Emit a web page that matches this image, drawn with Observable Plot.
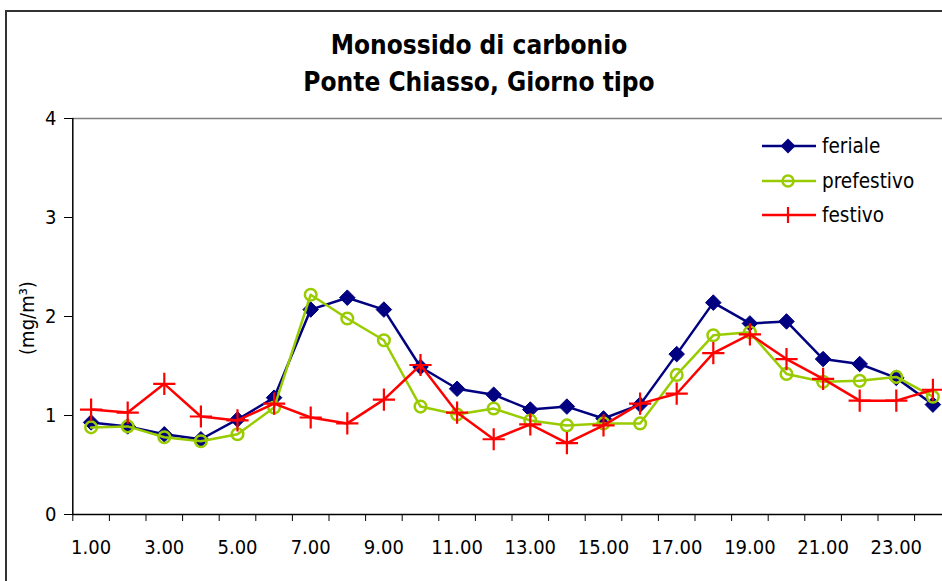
<!DOCTYPE html>
<html>
<head>
<meta charset="utf-8">
<script src="https://cdn.jsdelivr.net/npm/d3@7"></script>
<script src="https://cdn.jsdelivr.net/npm/@observablehq/plot@0.6"></script>
<style>
  html, body { margin: 0; padding: 0; background: #fff; }
  #wrap { position: relative; width: 942px; height: 581px; overflow: hidden; background: #fff;
          font-family: "DejaVu Sans Condensed", "DejaVu Sans", sans-serif; font-stretch: condensed; }
  #frame { position: absolute; left: 5px; top: 10px; width: 960px; height: 600px;
           border-left: 2px solid #333; border-top: 2px solid #333; }
  #title { position: absolute; left: 0; top: 27px; width: 958px; text-align: center;
           font-weight: bold; font-size: 26px; line-height: 37px; color: #000; }
  #chart { position: absolute; left: 0; top: 0; }
  #legend { position: absolute; left: 760px; top: 129px; font-size: 20.5px; color: #000; }
  #legend .row { display: flex; align-items: center; height: 34.5px; }
  #legend svg { margin-right: 4px; }
  #ylabel { position: absolute; left: 27px; top: 318px; transform: translate(-50%, -50%) rotate(-90deg);
            font-size: 20px; white-space: nowrap; }
</style>
</head>
<body>
<div id="wrap">
  <div id="frame"></div>
  <div id="title">Monossido di carbonio<br>Ponte Chiasso, Giorno tipo</div>
  <div id="chart"></div>
  <div id="ylabel">(mg/m³)</div>
  <div id="legend"></div>
</div>
<script>
const hours = [1,2,3,4,5,6,7,8,9,10,11,12,13,14,15,16,17,18,19,20,21,22,23,24];
const feriale    = [0.93,0.89,0.81,0.76,0.96,1.18,2.07,2.19,2.07,1.49,1.27,1.21,1.06,1.09,0.97,1.11,1.62,2.14,1.93,1.95,1.57,1.52,1.38,1.11];
const prefestivo = [0.88,0.89,0.78,0.74,0.81,1.08,2.22,1.98,1.76,1.09,1.01,1.07,0.95,0.90,0.92,0.92,1.41,1.81,1.84,1.42,1.34,1.35,1.39,1.19];
const festivo    = [1.06,1.03,1.32,0.99,0.95,1.12,0.98,0.92,1.16,1.51,1.03,0.76,0.91,0.72,0.90,1.12,1.22,1.63,1.82,1.57,1.37,1.15,1.15,1.26];
const tickLabels = ["1.00","3.00","5.00","7.00","9.00","11.00","13.00","15.00","17.00","19.00","21.00","23.00"];
const yTicks = [0,1,2,3,4];
const seriesNames = ["feriale","prefestivo","festivo"];
const colors = {feriale: "#000080", prefestivo: "#99CC00", festivo: "#FF0000"};

const rows = s => hours.map((h, i) => ({hour: h, value: s[i]}));
const dFer = rows(feriale), dPre = rows(prefestivo), dFes = rows(festivo);
const labelPos = tickLabels.map(t => parseFloat(t));
const boundaries = hours.map(h => h - 0.5);

const fontFam = '"DejaVu Sans Condensed", "DejaVu Sans", sans-serif';

const chart = Plot.plot({
  width: 942,
  height: 581,
  marginLeft: 72,
  marginRight: 0,
  marginTop: 118,
  marginBottom: 67,
  style: {fontFamily: fontFam, fontSize: "20px", fontStretch: "condensed", background: "transparent", color: "#000", overflow: "visible"},
  x: {type: "linear", domain: [0.5, 24.5], range: [72.3, 950.7]},
  y: {domain: [0, 4]},
  marks: [
    Plot.ruleY([4], {stroke: "#808080", strokeWidth: 1.5}),
    Plot.ruleY([0], {stroke: "#000", strokeWidth: 1.5}),
    Plot.ruleX([0.5], {stroke: "#000", strokeWidth: 1.5}),
    Plot.axisY({ticks: yTicks, tickSize: 8, tickPadding: 8, tickFormat: d => String(d), label: null, stroke: "#000", fontSize: 20}),
    Plot.axisX({ticks: boundaries, tickSize: 7, tickFormat: () => "", label: null, stroke: "#000"}),
    Plot.axisX({ticks: labelPos, tickSize: 0, tickPadding: 25, tickFormat: (d, i) => tickLabels[i], label: null, fontSize: 20}),
    Plot.line(dFer, {x: "hour", y: "value", stroke: colors.feriale, strokeWidth: 2.5}),
    Plot.dot(dFer, {x: "hour", y: "value", symbol: "diamond2", r: 7, fill: colors.feriale, stroke: colors.feriale, strokeWidth: 1}),
    Plot.line(dPre, {x: "hour", y: "value", stroke: colors.prefestivo, strokeWidth: 2.5}),
    Plot.dot(dPre, {x: "hour", y: "value", symbol: "circle", r: 5.8, fill: "none", stroke: colors.prefestivo, strokeWidth: 2.5}),
    Plot.line(dFes, {x: "hour", y: "value", stroke: colors.festivo, strokeWidth: 2.5}),
    Plot.dot(dFes, {x: "hour", y: "value", symbol: "plus", r: 7.2, stroke: colors.festivo, strokeWidth: 2.2})
  ]
});
document.getElementById("chart").appendChild(chart);

// legend
const sym = {
  feriale: '<path d="M28,1.5 L35.5,9 L28,16.5 L20.5,9 Z" fill="#000080"/>',
  prefestivo: '<circle cx="28" cy="9" r="5.5" fill="none" stroke="#99CC00" stroke-width="2.5"/>',
  festivo: '<path d="M28,1 V17 M20,9 H36" stroke="#FF0000" stroke-width="2.2"/>'
};
const leg = document.getElementById("legend");
seriesNames.forEach(n => {
  const row = document.createElement("div");
  row.className = "row";
  row.innerHTML = `<svg width="58" height="18"><line x1="2" x2="56" y1="9" y2="9" stroke="${colors[n]}" stroke-width="2.5"/>${sym[n]}</svg><span>${n}</span>`;
  leg.appendChild(row);
});
</script>
</body>
</html>
